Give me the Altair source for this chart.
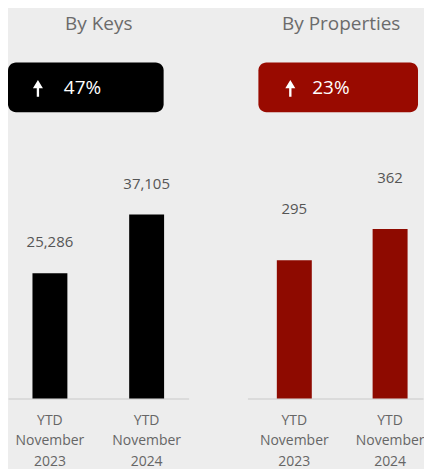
import altair as alt
import pandas as pd

# ---- data ----
panel_titles = ["By Keys", "By Properties"]
periods = ["YTD November 2023", "YTD November 2024"]
keys_values = [25286, 37105]
property_values = [295, 362]
changes = ["47%", "23%"]

BG = "#EDEDED"
BLACK = "#000000"
RED = "#8E0A00"
BADGE_RED = "#990A00"
FONT = "Open Sans"

ARROW = "M0,-1L0.6,0.0L0.14,0.0L0.14,1L-0.14,1L-0.14,0.0L-0.6,0.0Z"


def panel(title, values, change, bar_color, badge_color, width, y_max,
          pad_inner, pad_outer, align, label_dy,
          title_x, badge_x0, badge_x1, arrow_x, change_x):
    df = pd.DataFrame({"period": periods, "value": values})
    base = alt.Chart(df)
    x = alt.X(
        "period:N",
        sort=periods,
        scale=alt.Scale(paddingInner=pad_inner, paddingOuter=pad_outer, align=align),
        axis=alt.Axis(
            title=None,
            labelAngle=0,
            labelExpr="split(datum.label, ' ')",
            ticks=False,
            tickSize=0,
            labelPadding=15,
            labelLineHeight=20.5,
            labelFont=FONT,
            labelFontSize=14,
            labelColor="#666666",
            domainColor="#D4D4D4",
            domainWidth=1.5,
            grid=False,
        ),
    )
    y = alt.Y("value:Q", scale=alt.Scale(domain=[0, y_max]), axis=None)
    bars = base.mark_bar(color=bar_color).encode(x=x, y=y)
    labels = base.mark_text(
        dy=label_dy, font=FONT, fontSize=15, color="#555555", baseline="middle"
    ).encode(x=x, y=y, text=alt.Text("value:Q", format=","))

    info = alt.Chart(pd.DataFrame({"title": [title], "change": [change]}))
    title_mark = info.mark_text(
        font=FONT, fontSize=19, color="#6B6B6B", baseline="alphabetic", align="center"
    ).encode(x=alt.value(title_x), y=alt.value(21), text="title:N")
    badge = info.mark_rect(color=badge_color, cornerRadius=8).encode(
        x=alt.value(badge_x0), x2=alt.value(badge_x1), y=alt.value(54), y2=alt.value(104)
    )
    arrow = info.mark_point(
        shape=ARROW, filled=True, color="white", opacity=1, size=280, strokeWidth=0
    ).encode(x=alt.value(arrow_x), y=alt.value(80))
    change_text = info.mark_text(
        font=FONT, fontSize=19, color="white", baseline="alphabetic", align="left"
    ).encode(x=alt.value(change_x), y=alt.value(86), text="change:N")

    return alt.layer(bars, labels, badge, arrow, change_text, title_mark).properties(
        width=width, height=391
    )


left = panel(panel_titles[0], keys_values, changes[0], BLACK, BLACK,
             width=181, y_max=78600, pad_inner=0.639, pad_outer=0.253, align=0.5,
             label_dy=-31, title_x=91, badge_x0=0, badge_x1=156,
             arrow_x=30, change_x=56)
right = panel(panel_titles[1], property_values, changes[1], RED, BADGE_RED,
              width=176, y_max=832, pad_inner=0.635, pad_outer=0.234, align=0.656,
              label_dy=-51, title_x=94, badge_x0=11, badge_x1=171,
              arrow_x=43, change_x=65)

chart = (
    alt.hconcat(left, right, spacing=59)
    .properties(padding=0, background=BG)
    .configure_view(stroke=None)
)

chart.save("out.html", embed_options={"renderer": "svg", "actions": False})
